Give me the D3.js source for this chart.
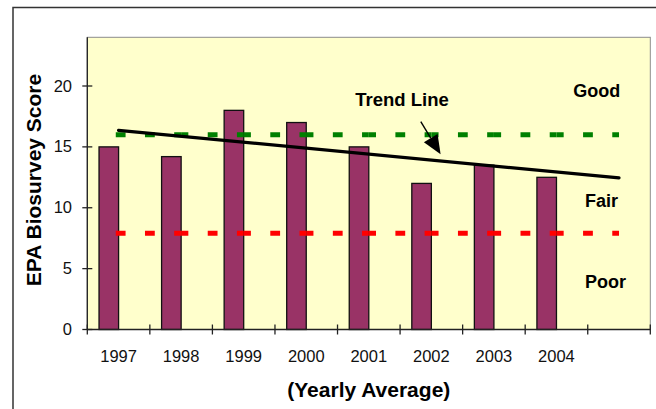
<!DOCTYPE html>
<html>
<head>
<meta charset="utf-8">
<script src="https://cdn.jsdelivr.net/npm/d3@7"></script>
<style>
  html, body { margin: 0; padding: 0; background: #ffffff; }
  svg { display: block; font-family: "Liberation Sans", Arial, sans-serif; }
</style>
</head>
<body>
<svg id="chart" width="656" height="409"></svg>
<script>
// Yearly average biosurvey scores
const years = ["1997", "1998", "1999", "2000", "2001", "2002", "2003", "2004", ""];
const scores = [15, 14.2, 18, 17, 15, 12, 13.5, 12.5];
const goodThreshold = 16;
const poorThreshold = 7.9;
const yTicks = [0, 5, 10, 15, 20];
const yMax = 24;

const svg = d3.select("#chart");
const plot = { left: 87.3, right: 650.3, top: 37.3, bottom: 329.5 };

// outer chart frame
svg.append("rect")
  .attr("x", 13).attr("y", 7.5).attr("width", 700).attr("height", 500)
  .attr("fill", "#ffffff").attr("stroke", "#333333").attr("stroke-width", 1.5);

const x = d3.scaleBand().domain(years).range([plot.left, plot.right]).padding(0);
const inner = d3.scaleBand().domain(["score", "spare"]).range([0, x.bandwidth()])
  .paddingInner(0).paddingOuter(0.6);
const y = d3.scaleLinear().domain([0, yMax]).range([plot.bottom, plot.top]);
const cx = d => x(d) + x.bandwidth() / 2;

// plot background
svg.append("rect")
  .attr("x", plot.left).attr("y", plot.top)
  .attr("width", plot.right - plot.left).attr("height", plot.bottom - plot.top)
  .attr("fill", "#ffffcc").attr("stroke", "#8c8c8c").attr("stroke-width", 1);

// bars
svg.append("g").selectAll("rect")
  .data(scores)
  .join("rect")
  .attr("x", (d, i) => x(years[i]) + inner("score"))
  .attr("y", d => y(d))
  .attr("width", inner.bandwidth())
  .attr("height", d => y(0) - y(d))
  .attr("fill", "#993366")
  .attr("stroke", "#111111")
  .attr("stroke-width", 1.3);

// threshold lines, dashed per category segment
function thresholdLine(value, color) {
  const pts = years.map(c => [cx(c), y(value)]);
  const g = svg.append("g");
  for (let i = 0; i < pts.length - 1; i++) {
    g.append("line")
      .attr("x1", i === 0 ? pts[i][0] - 2.8 : pts[i][0]).attr("y1", pts[i][1])
      .attr("x2", pts[i + 1][0]).attr("y2", pts[i + 1][1])
      .attr("stroke", color).attr("stroke-width", 5)
      .attr("stroke-dasharray", "9.8 19.4").attr("stroke-dashoffset", i === 0 ? 0 : 2.6);
  }
}
thresholdLine(goodThreshold, "#008000");
thresholdLine(poorThreshold, "#ff0000");

// linear trend, extended one period forward
const n = scores.length;
const mx = d3.mean(scores, (d, i) => i);
const my = d3.mean(scores);
const slope = d3.sum(scores, (d, i) => (i - mx) * (d - my)) / d3.sum(scores, (d, i) => (i - mx) ** 2);
const trendAt = i => my + slope * (i - mx);
svg.append("line")
  .attr("x1", cx(years[0])).attr("y1", y(trendAt(0)))
  .attr("x2", cx(years[n])).attr("y2", y(trendAt(n)))
  .attr("stroke", "#000000").attr("stroke-width", 3.2).attr("stroke-linecap", "round");

// axes
const xAxisG = svg.append("g");
xAxisG.append("line")
  .attr("x1", plot.left).attr("x2", plot.right)
  .attr("y1", plot.bottom).attr("y2", plot.bottom)
  .attr("stroke", "#222222").attr("stroke-width", 1.3);
const bounds = years.map(c => x(c)).concat([plot.right]);
xAxisG.selectAll("line.tick").data(bounds).join("line")
  .attr("class", "tick")
  .attr("x1", d => d).attr("x2", d => d)
  .attr("y1", plot.bottom - 5).attr("y2", plot.bottom + 5)
  .attr("stroke", "#222222").attr("stroke-width", 1.3);
xAxisG.selectAll("text").data(years.filter(d => d)).join("text")
  .attr("x", d => cx(d)).attr("y", 362.3)
  .attr("text-anchor", "middle").attr("font-size", 16.5).attr("fill", "#111111")
  .text(d => d);

const yAxisG = svg.append("g");
yAxisG.append("line")
  .attr("x1", plot.left).attr("x2", plot.left)
  .attr("y1", plot.top).attr("y2", plot.bottom)
  .attr("stroke", "#222222").attr("stroke-width", 1.3);
yAxisG.selectAll("line.tick").data(yTicks).join("line")
  .attr("class", "tick")
  .attr("x1", plot.left - 5).attr("x2", plot.left + 5)
  .attr("y1", d => y(d)).attr("y2", d => y(d))
  .attr("stroke", "#222222").attr("stroke-width", 1.3);
yAxisG.selectAll("text").data(yTicks).join("text")
  .attr("x", 72).attr("y", d => y(d) + 5.5)
  .attr("text-anchor", "end").attr("font-size", 16.5).attr("fill", "#111111")
  .text(d => d);

// axis titles
svg.append("text")
  .attr("x", (plot.left + plot.right) / 2).attr("y", 396.5)
  .attr("text-anchor", "middle").attr("font-size", 21).attr("font-weight", "bold")
  .text("(Yearly Average)");
svg.append("text")
  .attr("transform", "translate(40.5,180) rotate(-90)")
  .attr("text-anchor", "middle").attr("font-size", 21).attr("font-weight", "bold")
  .text("EPA Biosurvey Score");

// zone labels
const zoneLabels = [
  { text: "Good", x: 573.3, y: 97.3 },
  { text: "Fair", x: 585, y: 207.3 },
  { text: "Poor", x: 585, y: 288.3 }
];
svg.append("g").selectAll("text").data(zoneLabels).join("text")
  .attr("x", d => d.x).attr("y", d => d.y)
  .attr("font-size", 18).attr("font-weight", "bold")
  .text(d => d.text);

// trend line annotation with arrow
svg.append("text")
  .attr("x", 355.3).attr("y", 106)
  .attr("font-size", 18.5).attr("font-weight", "bold")
  .text("Trend Line");
const arrowStart = [420.8, 121.7], arrowTip = [440.6, 154.3];
const ang = Math.atan2(arrowTip[1] - arrowStart[1], arrowTip[0] - arrowStart[0]);
const headLen = 19, headHalf = 8;
const baseX = arrowTip[0] - headLen * Math.cos(ang), baseY = arrowTip[1] - headLen * Math.sin(ang);
svg.append("line")
  .attr("x1", arrowStart[0]).attr("y1", arrowStart[1])
  .attr("x2", baseX).attr("y2", baseY)
  .attr("stroke", "#000000").attr("stroke-width", 1.4);
svg.append("polygon")
  .attr("points", [
    arrowTip,
    [baseX + headHalf * Math.sin(ang), baseY - headHalf * Math.cos(ang)],
    [baseX - headHalf * Math.sin(ang), baseY + headHalf * Math.cos(ang)]
  ].map(p => p.join(",")).join(" "))
  .attr("fill", "#000000");
</script>
</body>
</html>
